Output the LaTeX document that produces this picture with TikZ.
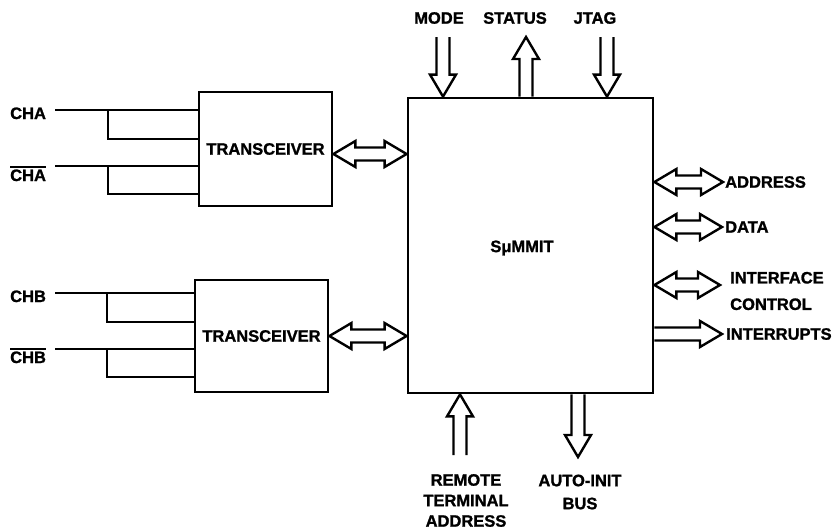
\documentclass[tikz,border=0pt]{standalone}
\usepackage{fontspec}
\setmainfont{Liberation Sans}[BoldFeatures={FakeBold=1.3}]
\usetikzlibrary{calc}
\newcommand\ovl[1]{\leavevmode\vbox{\hrule height 1.7pt\kern1.4pt\hbox{#1}}}
\tikzset{
  box/.style={draw, line width=2.8pt, inner sep=0pt},
  wire/.style={line width=2.2pt},
  hollow/.style={draw, line width=2.4pt, line join=miter},
  lbl/.style={inner sep=0pt, font=\fontsize{16.5}{20}\selectfont\bfseries},
}
% single hollow arrow from #1 to #2 (tip at #2)
\newcommand\sarr[2]{%
  \draw[hollow] let \p1=#1, \p2=#2, \n1={atan2(\y2-\y1,\x2-\x1)}, \n2={veclen(\x2-\x1,\y2-\y1)} in
   [shift={(\p1)}, rotate=\n1] (0pt,-6.5pt) -- ({\n2-22pt},-6.5pt) -- ({\n2-22pt},-13pt) -- (\n2,0pt)
   -- ({\n2-22pt},13pt) -- ({\n2-22pt},6.5pt) -- (0pt,6.5pt);}
% double hollow arrow between #1 and #2
\newcommand\darr[2]{%
  \draw[hollow] let \p1=#1, \p2=#2, \n1={atan2(\y2-\y1,\x2-\x1)}, \n2={veclen(\x2-\x1,\y2-\y1)} in
   [shift={(\p1)}, rotate=\n1] (0pt,0pt) -- (22pt,13pt) -- (22pt,6.5pt) -- ({\n2-22pt},6.5pt)
   -- ({\n2-22pt},13pt) -- (\n2,0pt) -- ({\n2-22pt},-13pt) -- ({\n2-22pt},-6.5pt)
   -- (22pt,-6.5pt) -- (22pt,-13pt) -- cycle;}
\begin{document}
\begin{tikzpicture}[x=1pt, y=-1pt]
\useasboundingbox (0,0) rectangle (840,531);
% blocks
\node[box, minimum width=245pt, minimum height=295pt] (mmit) at (530.5,245.5) {};
\node[lbl] (mmitlbl) at (522,248) {SμMMIT};
\node[box, lbl, minimum width=133pt, minimum height=114pt] (t1) at (265.5,149) {TRANSCEIVER};
\node[box, lbl, minimum width=133pt, minimum height=112pt] (t2) at (261.5,336) {TRANSCEIVER};
% channel labels
\node[lbl, anchor=base west] (cha)  at (10,119) {CHA};
\node[lbl, anchor=base west] (chab) at (10,181) {\ovl{CHA}};
\node[lbl, anchor=base west] (chb)  at (10,302) {CHB};
\node[lbl, anchor=base west] (chbb) at (10,363) {\ovl{CHB}};
% channel wires
\coordinate (wa)  at (55,110);  \coordinate (ba)  at (108,110); \coordinate (ba2)  at (108,139);
\coordinate (wab) at (55,166);  \coordinate (bab) at (108,166); \coordinate (bab2) at (108,194);
\coordinate (wb)  at (55,293);  \coordinate (bb)  at (107,293); \coordinate (bb2)  at (107,322);
\coordinate (wbb) at (55,349);  \coordinate (bbb) at (107,349); \coordinate (bbb2) at (107,377);
\draw[wire] (wa) -- (wa -| t1.west);   \draw[wire] (ba) -- (ba2) -- (ba2 -| t1.west);
\draw[wire] (wab) -- (wab -| t1.west); \draw[wire] (bab) -- (bab2) -- (bab2 -| t1.west);
\draw[wire] (wb) -- (wb -| t2.west);   \draw[wire] (bb) -- (bb2) -- (bb2 -| t2.west);
\draw[wire] (wbb) -- (wbb -| t2.west); \draw[wire] (bbb) -- (bbb2) -- (bbb2 -| t2.west);
% transceiver links
\coordinate (t1o) at ($(t1.east)+(0,5)$);
\darr{(t1o)}{(t1o -| mmit.west)}
\darr{(t2.east)}{(t2.east -| mmit.west)}
% top
\node[lbl] (mode)   at (439,18) {MODE};
\node[lbl] (status) at (515,18) {STATUS};
\node[lbl] (jtag)   at (595,18) {JTAG};
\coordinate (modein) at (443,37);
\coordinate (statout) at (526,37);
\coordinate (jtagin) at (607,37);
\sarr{(modein)}{(modein |- mmit.north)}
\sarr{(statout |- mmit.north)}{(statout)}
\sarr{(jtagin)}{(jtagin |- mmit.north)}
% right
\coordinate (addr) at (723,182);
\coordinate (data) at (722,227);
\coordinate (ifc)  at (720,285);
\coordinate (intr) at (722,334);
\darr{(addr -| mmit.east)}{(addr)}
\darr{(data -| mmit.east)}{(data)}
\darr{(ifc -| mmit.east)}{(ifc)}
\sarr{(intr -| mmit.east)}{(intr)}
\node[lbl, anchor=west] (addrl) at (725,182) {ADDRESS};
\node[lbl, anchor=west] (datal) at (725,227) {DATA};
\node[lbl, anchor=west, align=left, font=\fontsize{16.5}{26.5}\selectfont\bfseries] (ifcl) at (730,291) {INTERFACE\\CONTROL};
\node[lbl, anchor=west] (intrl) at (726,334) {INTERRUPTS};
% bottom
\coordinate (rta) at (460,455);
\coordinate (ai)  at (578,457);
\sarr{(rta)}{(rta |- mmit.south)}
\sarr{(ai |- mmit.south)}{(ai)}
\node[lbl, align=center, font=\fontsize{16.5}{20.5}\selectfont\bfseries] (rtal) at (466,500.5) {REMOTE\\TERMINAL\\ADDRESS};
\node[lbl, align=center, font=\fontsize{16.5}{23}\selectfont\bfseries] (ail) at (580,492) {AUTO-INIT\\BUS};
\end{tikzpicture}
\end{document}
